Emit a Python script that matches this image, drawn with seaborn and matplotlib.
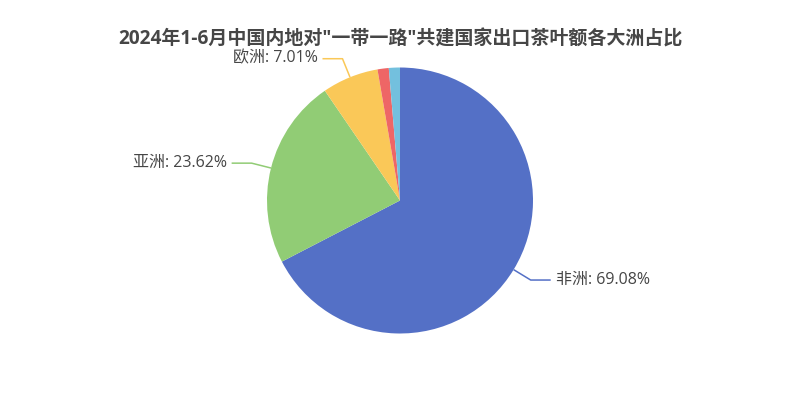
import numpy as np
import matplotlib
matplotlib.use("Agg")
import matplotlib.pyplot as plt
import seaborn as sns

# ---- data ----
title = '2024年1-6月中国内地对"一带一路"共建国家出口茶叶额各大洲占比'
regions = ["非洲", "亚洲", "欧洲", "美洲", "大洋洲"]
values = [69.08, 23.62, 7.01, 1.40, 1.38]
show_label = [True, True, True, False, False]
colors = ["#5470c6", "#91cc75", "#fac858", "#ee6666", "#73c0de"]

sns.set_theme(style="white")
plt.rcParams["font.family"] = ["Open Sans", "Noto Sans CJK SC", "DejaVu Sans"]

fig = plt.figure(figsize=(8, 4), dpi=100)
ax = fig.add_axes([0, 0, 1, 1])

R = 133
cx, cy = 0, -0.5
wedges, _ = ax.pie(values, colors=colors, radius=R, center=(cx, cy),
                   startangle=90, counterclock=False,
                   wedgeprops=dict(linewidth=0), frame=True)
ax.set_xlim(-400, 400)
ax.set_ylim(-200, 200)
ax.set_aspect("equal")
ax.axis("off")

for w, name, v, show, col in zip(wedges, regions, values, show_label, colors):
    if not show:
        continue
    mid = np.deg2rad((w.theta1 + w.theta2) / 2)
    x0, y0 = cx + R * np.cos(mid), cy + R * np.sin(mid)
    x1, y1 = cx + (R + 20) * np.cos(mid), cy + (R + 20) * np.sin(mid)
    sgn = 1 if np.cos(mid) >= 0 else -1
    x2 = x1 + sgn * 20
    ax.plot([x0, x1, x2], [y0, y1, y1], color=col, lw=1.1, solid_capstyle="butt")
    ax.text(x2 + sgn * 5, y1, f"{name}: {v:.2f}%", ha="left" if sgn > 0 else "right",
            va="center", fontsize=11.5, color="#464646")

fig.text(0.5, 1 - 40 / 400, title, ha="center", va="center", fontsize=13.7,
         fontweight="bold", color="#464646")

fig.savefig("out.png", dpi=100, facecolor="white")
